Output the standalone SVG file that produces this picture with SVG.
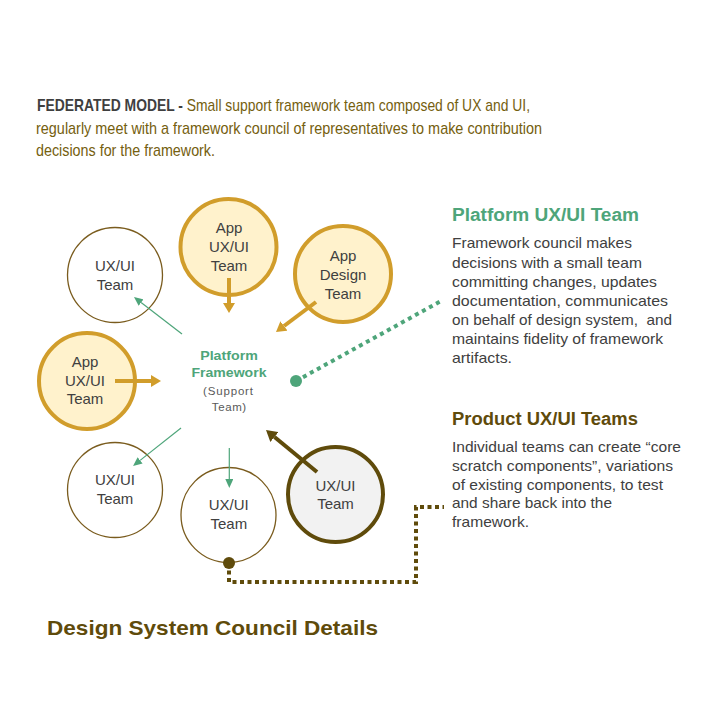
<svg xmlns="http://www.w3.org/2000/svg" width="720" height="720" viewBox="0 0 720 720">
<defs>
<style>
.txt{font-family:"Liberation Sans",Arial,sans-serif}
.node{font-family:"Liberation Sans",Arial,sans-serif;font-size:15px;fill:#404040;text-anchor:middle}
.plain{fill:#ffffff;stroke:#7a5c1e;stroke-width:1.3}
.app{fill:#fff2cc;stroke:#d19d2b;stroke-width:4}
.prod{fill:#f2f2f2;stroke:#5f4b0b;stroke-width:4}
.gold{stroke:#d19d2b;stroke-width:4;fill:none}
.green{stroke:#4ea57a;stroke-width:1.2;fill:none}
.brown{stroke:#5f4b0b;stroke-width:4;fill:none}
.para{font-family:"Liberation Sans",Arial,sans-serif;font-size:14.5px;fill:#404040}
</style>
<marker id="hGold" markerUnits="userSpaceOnUse" markerWidth="10" markerHeight="12" viewBox="0 0 10 12" refX="0" refY="6" orient="auto"><path d="M0,0 L10,6 L0,12 z" fill="#d19d2b"/></marker>
<marker id="hBrown" markerUnits="userSpaceOnUse" markerWidth="11" markerHeight="13" viewBox="0 0 11 13" refX="0" refY="6.5" orient="auto"><path d="M0,0 L11,6.5 L0,13 z" fill="#5f4b0b"/></marker>
<marker id="hGreen" markerUnits="userSpaceOnUse" markerWidth="9" markerHeight="8" viewBox="0 0 9 8" refX="0" refY="4" orient="auto"><path d="M0,0 L9,4 L0,8 z" fill="#4ea57a"/></marker>
</defs>
<rect width="720" height="720" fill="#ffffff"/>

<g id="title">
<text class="txt" x="37" y="111" font-size="17" fill="#75600f" textLength="493" lengthAdjust="spacingAndGlyphs"><tspan font-weight="bold" fill="#3f3f3f">FEDERATED MODEL -</tspan> Small support framework team composed of UX and UI,</text>
<text class="txt" x="36" y="134" font-size="17" fill="#75600f" textLength="506" lengthAdjust="spacingAndGlyphs">regularly meet with a framework council of representatives to make contribution</text>
<text class="txt" x="36" y="156" font-size="17" fill="#75600f" textLength="179" lengthAdjust="spacingAndGlyphs">decisions for the framework.</text>
</g>

<g id="node-uxui-topleft">
<circle class="plain" cx="115" cy="275" r="47.5"/>
<text class="node" x="115" y="271">UX/UI</text>
<text class="node" x="115" y="290">Team</text>
</g>

<g id="node-app-top">
<circle class="app" cx="228.5" cy="247" r="48"/>
<text class="node" x="229" y="233">App</text>
<text class="node" x="229" y="252">UX/UI</text>
<text class="node" x="229" y="271">Team</text>
</g>

<g id="node-app-design">
<circle class="app" cx="343" cy="274" r="48"/>
<text class="node" x="343" y="261">App</text>
<text class="node" x="343" y="280">Design</text>
<text class="node" x="343" y="298.5">Team</text>
</g>

<g id="node-app-left">
<circle class="app" cx="87" cy="381" r="48"/>
<text class="node" x="85" y="367">App</text>
<text class="node" x="85" y="385.5">UX/UI</text>
<text class="node" x="85" y="404">Team</text>
</g>

<g id="node-platform">
<text class="txt" x="229" y="360" font-size="13.5" font-weight="bold" fill="#4ea57a" text-anchor="middle" textLength="57.6" lengthAdjust="spacingAndGlyphs">Platform</text>
<text class="txt" x="229" y="376.5" font-size="13.5" font-weight="bold" fill="#4ea57a" text-anchor="middle" textLength="75" lengthAdjust="spacingAndGlyphs">Framework</text>
<text class="txt" x="228" y="395" font-size="11.5" fill="#595959" text-anchor="middle" textLength="50" lengthAdjust="spacing">(Support</text>
<text class="txt" x="229" y="410.5" font-size="11.5" fill="#595959" text-anchor="middle" textLength="34.3" lengthAdjust="spacing">Team)</text>
</g>

<g id="node-uxui-bottomleft">
<circle class="plain" cx="115" cy="490" r="47.5"/>
<text class="node" x="115" y="485">UX/UI</text>
<text class="node" x="115" y="503.5">Team</text>
</g>

<g id="node-uxui-bottommid">
<circle class="plain" cx="228.5" cy="515" r="47.5"/>
<text class="node" x="228.8" y="510">UX/UI</text>
<text class="node" x="228.8" y="529">Team</text>
</g>

<g id="node-product">
<circle class="prod" cx="335.5" cy="494.5" r="47.5"/>
<text class="node" x="335.5" y="490.7">UX/UI</text>
<text class="node" x="335.5" y="509.3">Team</text>
</g>

<g id="connectors">
<line class="gold" x1="229" y1="278" x2="229" y2="303" marker-end="url(#hGold)"/>
<line class="gold" x1="316" y1="302" x2="284" y2="326" marker-end="url(#hGold)"/>
<line class="gold" x1="115" y1="381" x2="151" y2="381" marker-end="url(#hGold)"/>
<line class="brown" x1="317" y1="472" x2="274.5" y2="437" marker-end="url(#hBrown)"/>
<line class="green" x1="182" y1="334" x2="141.1" y2="302.5" marker-end="url(#hGreen)"/>
<line class="green" x1="181" y1="428" x2="140.1" y2="460.4" marker-end="url(#hGreen)"/>
<line class="green" x1="229.3" y1="448" x2="229.3" y2="479" marker-end="url(#hGreen)"/>
<line x1="296" y1="381" x2="441" y2="301" stroke="#4ea57a" stroke-width="4" stroke-dasharray="4 4"/>
<circle cx="296" cy="381" r="6" fill="#4ea57a"/>
<path d="M229,563 V582 H416 V507 H444" fill="none" stroke="#5f4b0b" stroke-width="4" stroke-dasharray="4 3.5"/>
<circle cx="229" cy="563" r="6" fill="#5f4b0b"/>
</g>

<g id="platform-desc">
<text class="txt" x="452" y="221" font-size="18" font-weight="bold" fill="#4ea57a" textLength="187" lengthAdjust="spacingAndGlyphs">Platform UX/UI Team</text>
<text class="para" x="452" y="248" textLength="180" lengthAdjust="spacingAndGlyphs">Framework council makes</text>
<text class="para" x="452" y="267.5" textLength="190" lengthAdjust="spacingAndGlyphs">decisions with a small team</text>
<text class="para" x="452" y="287" textLength="205" lengthAdjust="spacingAndGlyphs">committing changes, updates</text>
<text class="para" x="452" y="306" textLength="216" lengthAdjust="spacingAndGlyphs">documentation, communicates</text>
<text class="para" x="452" y="325" textLength="220" lengthAdjust="spacingAndGlyphs" xml:space="preserve">on behalf of design system,  and</text>
<text class="para" x="452" y="344" textLength="211" lengthAdjust="spacingAndGlyphs">maintains fidelity of framework</text>
<text class="para" x="452" y="363" textLength="60" lengthAdjust="spacingAndGlyphs">artifacts.</text>
</g>

<g id="product-desc">
<text class="txt" x="452" y="425" font-size="18" font-weight="bold" fill="#5f4b0b" textLength="186" lengthAdjust="spacingAndGlyphs">Product UX/UI Teams</text>
<text class="para" x="452" y="452" textLength="229" lengthAdjust="spacingAndGlyphs">Individual teams can create “core</text>
<text class="para" x="452" y="471" textLength="221" lengthAdjust="spacingAndGlyphs">scratch components”, variations</text>
<text class="para" x="452" y="489.5" textLength="211" lengthAdjust="spacingAndGlyphs">of existing components, to test</text>
<text class="para" x="452" y="508" textLength="160" lengthAdjust="spacingAndGlyphs">and share back into the</text>
<text class="para" x="452" y="527" textLength="77" lengthAdjust="spacingAndGlyphs">framework.</text>
</g>

<g id="footer">
<text class="txt" x="47" y="635" font-size="21" font-weight="bold" fill="#5f4b0b" textLength="331" lengthAdjust="spacingAndGlyphs">Design System Council Details</text>
</g>
</svg>
